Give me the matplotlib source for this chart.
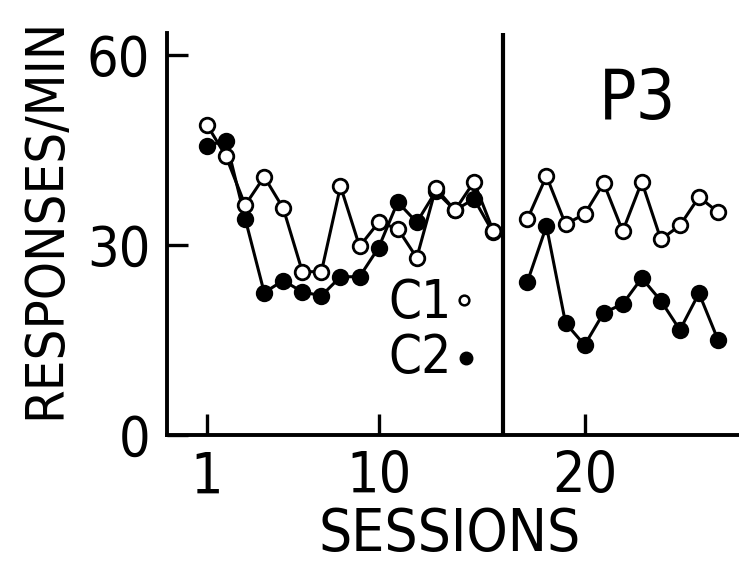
import matplotlib.pyplot as plt
from matplotlib.font_manager import fontManager, FontProperties

# =====================
# data
# =====================
sess_pre = list(range(1, 17))
c1_pre = [49.0, 44.0, 36.3, 40.8, 35.8, 25.8, 25.8, 39.3,
          29.8, 33.6, 32.6, 28.0, 39.0, 35.5, 40.0, 32.3]
c2_pre = [45.7, 46.5, 34.2, 22.5, 24.4, 22.6, 22.0, 25.0,
          25.0, 29.6, 36.8, 33.6, 38.5, 35.5, 37.3, 32.0]

sess_p3 = list(range(17, 28))
c1_p3 = [34.1, 40.9, 33.3, 34.9, 39.8, 32.2, 40.0, 30.9, 33.1, 37.6, 35.2]
c2_p3 = [24.2, 33.0, 17.7, 14.2, 19.3, 20.7, 24.8, 21.2, 16.6, 22.4, 15.0]

xticks = [1, 10, 20]
yticks = [0, 30, 60]

# break between phases (in session units)
gap = 0.8
divider = 16.52


# =====================
# narrow lettering if any condensed face is installed
# =====================
def pick_font():
    cands = []
    for f in fontManager.ttflist:
        if f.style != "normal":
            continue
        narrow = ("Condensed" in f.name or "Narrow" in f.name
                  or str(f.stretch) in ("condensed", "semi-condensed",
                                        "extra-condensed", "600", "700"))
        if not narrow:
            continue
        w = f.weight if isinstance(f.weight, int) else {"light": 300, "normal": 400,
                                                          "regular": 400}.get(f.weight, 500)
        cands.append((abs(w - 350), f.fname))
    if cands:
        cands.sort()
        return FontProperties(fname=cands[0][1]), True
    return FontProperties(family="Liberation Sans"), False


fp, narrow = pick_font()
scale = 1.0 if narrow else 0.82

W, H = 739, 563
fig = plt.figure(figsize=(W / 100, H / 100), dpi=100)


def fx(px):
    return px / W


def fy(py):
    return 1 - py / H


ax = fig.add_axes([fx(167), fy(435), fx(739) - fx(167), fy(33) - fy(435)])

line_kw = dict(color="black", lw=2.2, markersize=10.5, markeredgewidth=2.0,
               clip_on=False)

# C2 filled first so open circles sit on top
ax.plot(sess_pre, c2_pre, marker="o", markerfacecolor="black", zorder=3, **line_kw)
ax.plot([s + gap for s in sess_p3], c2_p3, marker="o", markerfacecolor="black",
        zorder=3, **line_kw)
ax.plot(sess_pre, c1_pre, marker="o", markerfacecolor="white", zorder=4, **line_kw)
ax.plot([s + gap for s in sess_p3], c1_p3, marker="o", markerfacecolor="white",
        zorder=4, **line_kw)

ax.axvline(divider, color="black", lw=3.0)

ax.set_xlim(1 + (167 - 207) / 19.07, 1 + (739 - 207) / 19.07)
ax.set_ylim(0, (435 - 33) / 6.33)

ax.set_xticks([t if t < divider else t + gap for t in xticks])
ax.set_xticklabels([str(t) for t in xticks], fontproperties=fp, size=41 * scale)
ax.set_yticks(yticks)
ax.set_yticklabels([str(t) for t in yticks], fontproperties=fp, size=40 * scale)

for s in ["top", "right"]:
    ax.spines[s].set_visible(False)
for s in ["left", "bottom"]:
    ax.spines[s].set_linewidth(2.8)

ax.tick_params(axis="both", direction="in", length=15, width=2.4)
ax.tick_params(axis="x", pad=11)
ax.tick_params(axis="y", pad=12)

fig.text(fx(45), fy(218), "RESPONSES/MIN", rotation=90, fontproperties=fp,
         size=39 * scale, ha="center", va="center")
fig.text(fx(450), fy(534), "SESSIONS", fontproperties=fp, size=42 * scale,
         ha="center", va="center")
fig.text(fx(638), fy(100), "P3", fontproperties=fp, size=50 * scale,
         ha="center", va="center")

fig.text(fx(388), fy(303), "C1", fontproperties=fp, size=38 * scale,
         ha="left", va="center")
fig.text(fx(388), fy(358), "C2", fontproperties=fp, size=38 * scale,
         ha="left", va="center")
ax.plot([fx(464)], [fy(300)], transform=fig.transFigure, marker="o",
        markersize=7, markerfacecolor="white", markeredgecolor="black",
        markeredgewidth=1.8, clip_on=False)
ax.plot([fx(466)], [fy(358)], transform=fig.transFigure, marker="o",
        markersize=9, color="black", clip_on=False)

fig.savefig("out.png", dpi=100)
